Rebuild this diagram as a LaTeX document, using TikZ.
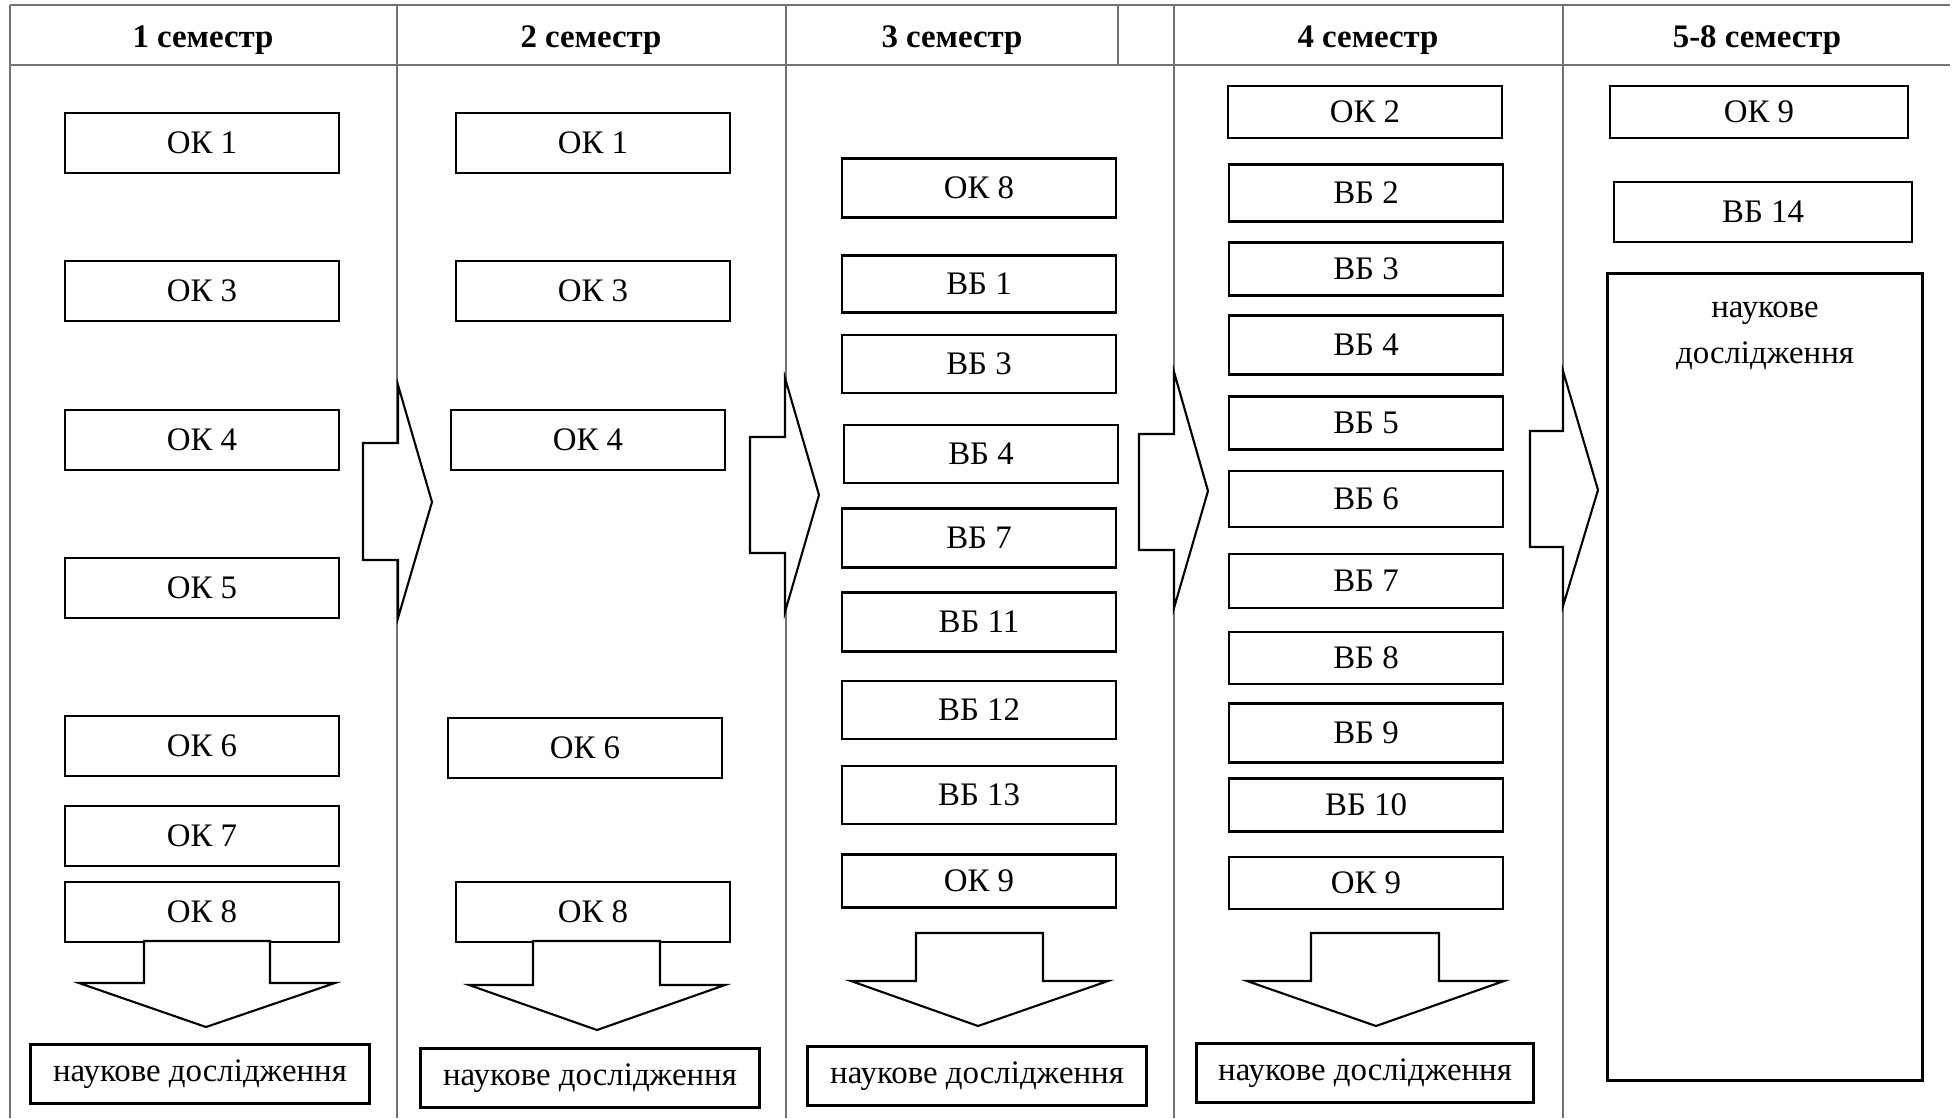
\documentclass[tikz,border=0pt]{standalone}
\usepackage{fontspec}
\setmainfont{Liberation Serif}
\usetikzlibrary{positioning}

\begin{document}
\begin{tikzpicture}[
    x=0.02cm, y=-0.02cm,
    every node/.style={font=\fontsize{18.7}{26}\selectfont},
    course/.style={rectangle, draw, line width=1.5pt, inner sep=0pt, minimum width=5.48cm, minimum height=1.2cm},
    research/.style={rectangle, draw, line width=1.5pt, inner sep=0pt, minimum width=6.78cm, minimum height=1.18cm},
    head/.style={font=\fontsize{18.7}{26}\selectfont\bfseries},
    gridline/.style={line width=0.9pt, black!55},
    blockarrow/.style={draw, fill=white, line width=1.2pt, line join=miter}
  ]
    \useasboundingbox (0,0) rectangle (1959,1118);
    % Table
    \draw[gridline] (10,5) -- (1950,5);
    \draw[gridline, line width=1.4pt] (10,65) -- (1950,65);
    \foreach \xx in {10,397,786,1174,1563}
      \draw[gridline] (\xx,5) -- (\xx,1118);
    \draw[gridline] (1118,5) -- (1118,65);
    % Headers
    \node[head] (sem1) at (203,40) {1 семестр};
    \node[head] (sem2) at (591,40) {2 семестр};
    \node[head] (sem3) at (952,40) {3 семестр};
    \node[head] (sem4) at (1368,40) {4 семестр};
    \node[head] (sem5) at (1757,40) {5-8 семестр};
    % Semester 1
    \node[course] (a1) at (202,143) {ОК 1};
    \node[course] (a3) at (202,291) {ОК 3};
    \node[course] (a4) at (202,440) {ОК 4};
    \node[course] (a5) at (202,588) {ОК 5};
    \node[course] (a6) at (202,746) {ОК 6};
    \node[course] (a7) at (202,836) {ОК 7};
    \node[course] (a8) at (202,912) {ОК 8};
    \node[research] (r1) at (200,1074) {наукове дослідження};
    % Semester 2
    \node[course] (b1) at (593,143) {ОК 1};
    \node[course] (b3) at (593,291) {ОК 3};
    \node[course] (b4) at (588,440) {ОК 4};
    \node[course] (b6) at (585,748) {ОК 6};
    \node[course] (b8) at (593,912) {ОК 8};
    \node[research] (r2) at (590,1078) {наукове дослідження};
    % Semester 3
    \node[course, minimum height=1.18cm] (c1) at (979,188) {ОК 8};
    \node[course, minimum height=1.14cm] (c2) at (979,284) {ВБ 1};
    \node[course, minimum height=1.16cm] (c3) at (979,364) {ВБ 3};
    \node[course, minimum height=1.16cm] (c4) at (981,454) {ВБ 4};
    \node[course, minimum height=1.18cm] (c5) at (979,538) {ВБ 7};
    \node[course, minimum height=1.18cm] (c6) at (979,622) {ВБ 11};
    \node[course, minimum height=1.16cm] (c7) at (979,710) {ВБ 12};
    \node[course, minimum height=1.16cm] (c8) at (979,795) {ВБ 13};
    \node[course, minimum height=1.06cm] (c9) at (979,881) {ОК 9};
    \node[research] (r3) at (977,1076) {наукове дослідження};
    % Semester 4
    \node[course, minimum height=1.04cm] (d1) at (1365,112) {ОК 2};
    \node[course, minimum height=1.14cm] (d2) at (1366,193) {ВБ 2};
    \node[course, minimum height=1.06cm] (d3) at (1366,269) {ВБ 3};
    \node[course, minimum height=1.18cm] (d4) at (1366,345) {ВБ 4};
    \node[course, minimum height=1.06cm] (d5) at (1366,423) {ВБ 5};
    \node[course, minimum height=1.12cm] (d6) at (1366,499) {ВБ 6};
    \node[course, minimum height=1.08cm] (d7) at (1366,581) {ВБ 7};
    \node[course, minimum height=1.04cm] (d8) at (1366,658) {ВБ 8};
    \node[course, minimum height=1.18cm] (d9) at (1366,733) {ВБ 9};
    \node[course, minimum height=1.06cm] (d10) at (1366,805) {ВБ 10};
    \node[course, minimum height=1.04cm] (d11) at (1366,883) {ОК 9};
    \node[research, minimum width=6.74cm] (r4) at (1365,1073) {наукове дослідження};
    % Semesters 5-8
    \node[course, minimum width=5.96cm, minimum height=1.04cm] (e1) at (1759,112) {ОК 9};
    \node[course, minimum width=5.96cm] (e2) at (1763,212) {ВБ 14};
    \node[course, minimum width=6.3cm, minimum height=16.14cm] (r5) at (1765,677) {};
    \node[align=center, below=0.48cm of r5.north] (r5text) {наукове\\дослідження};
    % Arrows between semesters
    \draw[blockarrow] (363,443) -- (398,443) -- (398,385) -- (432,502) -- (398,618) -- (398,560) -- (363,560) -- cycle;
    \draw[blockarrow] (750,437) -- (785,437) -- (785,378) -- (819,495) -- (785,612) -- (785,553) -- (750,553) -- cycle;
    \draw[blockarrow] (1139,434) -- (1174,434) -- (1174,372) -- (1208,491) -- (1174,608) -- (1174,550) -- (1139,550) -- cycle;
    \draw[blockarrow] (1530,431) -- (1563,431) -- (1563,371) -- (1598,490) -- (1563,606) -- (1563,547) -- (1530,547) -- cycle;
    % Arrows to research
    \draw[blockarrow] (144,941) -- (270,941) -- (270,983) -- (335,983) -- (206,1027) -- (79,983) -- (144,983) -- cycle;
    \draw[blockarrow] (533,941) -- (660,941) -- (660,985) -- (725,985) -- (597,1030) -- (469,985) -- (533,985) -- cycle;
    \draw[blockarrow] (916,933) -- (1043,933) -- (1043,981) -- (1108,981) -- (978,1026) -- (851,981) -- (916,981) -- cycle;
    \draw[blockarrow] (1311,933) -- (1439,933) -- (1439,981) -- (1504,981) -- (1376,1026) -- (1247,981) -- (1311,981) -- cycle;
  \end{tikzpicture}
\end{document}
